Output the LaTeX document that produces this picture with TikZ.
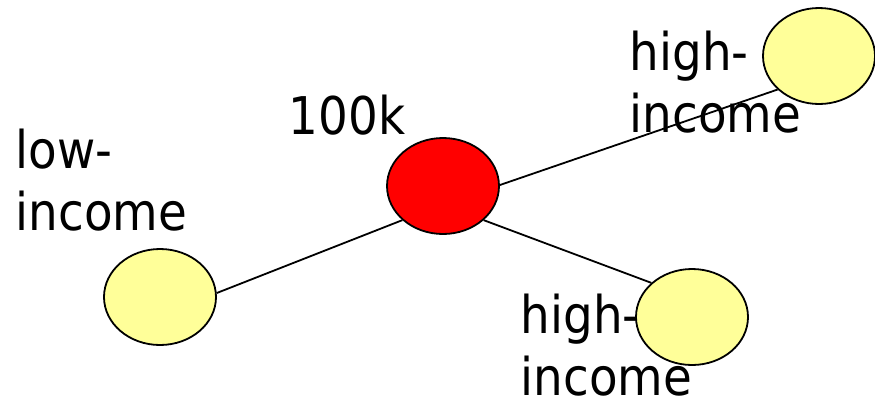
\documentclass[tikz,border=0pt]{standalone}
\usepackage{fontspec}
\setmainfont{DejaVu Sans Condensed}
\usetikzlibrary{shapes.geometric}
\def\nodeW{112pt}
\def\nodeH{96pt}
\begin{document}
\begin{tikzpicture}[
    x=1pt, y=-1pt,
    line width=1.8pt,
    every node/.style={inner sep=0pt},
    blob/.style={ellipse, draw, line width=1.8pt, minimum width=\nodeW, minimum height=\nodeH},
    lbl/.style={anchor=base west, align=left, font=\fontsize{52}{62}\selectfont}
]
\useasboundingbox (0,0) rectangle (875,400);
% texts first, the ellipses sit on top of them
\node[lbl] (t100k) at (288,134) {100k};
\node[lbl] (tlo) at (15,230) {low-\\income};
\node[lbl] (thiA) at (629,132) {high-\\income};
\node[lbl] (thiB) at (520,395) {high-\\income};

\node[blob, fill=red] (split) at (443,186) {};
\node[blob, fill={rgb,255:red,255;green,255;blue,153}] (lo) at (160,297) {};
\node[blob, fill={rgb,255:red,255;green,255;blue,153}] (hiA) at (819,56) {};
\node[blob, fill={rgb,255:red,255;green,255;blue,153}] (hiB) at (692,317) {};

\draw (split.220) -- (lo.4);
\draw (split.1) -- (hiA.219);
\draw (split.-40) -- (hiB.140);
\end{tikzpicture}
\end{document}
